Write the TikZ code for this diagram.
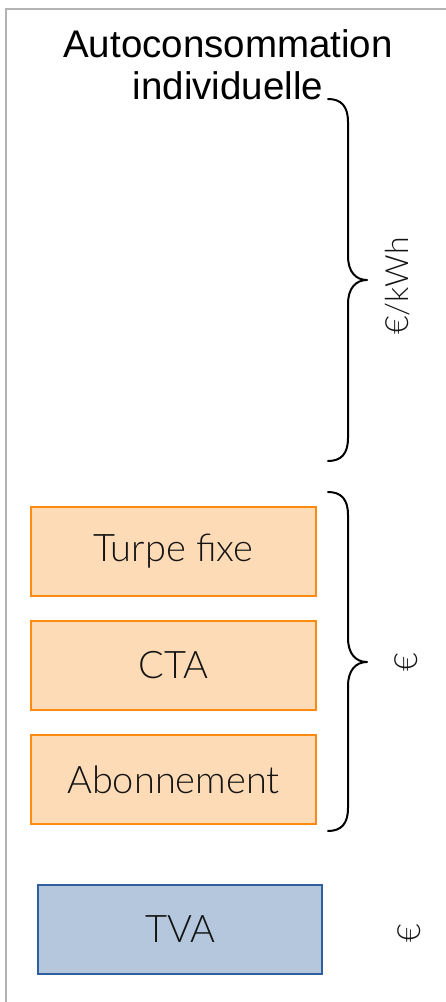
\documentclass[tikz,border=0pt]{standalone}
\usepackage{fontspec}
\setmainfont{Liberation Sans}
\newfontfamily\lightfont{Lato Light}
\definecolor{frameGray}{HTML}{B3B3B3}
\definecolor{orangeFill}{HTML}{FDDBB6}
\definecolor{orangeLine}{HTML}{FF8A10}
\definecolor{blueFill}{HTML}{B4C7DD}
\definecolor{blueLine}{HTML}{2F5F9E}
\definecolor{ink}{HTML}{141414}
\tikzset{
  costbox/.style={draw=orangeLine, fill=orangeFill, line width=1.5pt,
    minimum width=285pt, minimum height=89pt, inner sep=0pt,
    font=\lightfont\fontsize{38}{40}\selectfont, text=ink},
  taxbox/.style={draw=blueLine, fill=blueFill, line width=1.5pt,
    minimum width=284pt, minimum height=89pt, inner sep=0pt,
    font=\lightfont\fontsize{38}{40}\selectfont, text=ink},
  unitlabel/.style={rotate=90, inner sep=0pt,
    font=\lightfont\fontsize{32}{36}\selectfont, text=ink},
  titletext/.style={inner sep=0pt, anchor=base,
    font=\fontsize{38.5}{42}\selectfont},
  bracepath/.style={line width=2pt, line cap=round, line join=round}
}
\begin{document}
\begin{tikzpicture}[x=1pt, y=-1pt]
  \useasboundingbox (0,0) rectangle (445,1002);
  % frame
  \draw[frameGray, line width=2pt] (6,1003) -- (6,9) -- (446,9);
  % title
  \node[titletext] (title1) at (228,57) {Autoconsommation};
  \node[titletext] (title2) at (228,99) {individuelle};
  % boxes
  \node[costbox] (turpe) at (173.5,551.5) {Turpe fixe};
  \node[costbox] (cta) at (173.5,665.5) {CTA};
  \node[costbox] (abo) at (173.5,779.5) {Abonnement};
  \node[taxbox] (tva) at (180,929.5) {TVA};
  % upper brace
  \draw[bracepath] (328,99) .. controls (341,99) and (348,106) .. (348,122)
    -- (348,256) .. controls (348,272) and (356,280) .. (367,280)
    .. controls (356,280) and (348,288) .. (348,304)
    -- (348,438) .. controls (348,454) and (341,461) .. (328,461);
  % lower brace
  \draw[bracepath] (328,492) .. controls (341,492) and (348,499) .. (348,515)
    -- (348,638) .. controls (348,654) and (356,662) .. (367,662)
    .. controls (356,662) and (348,670) .. (348,686)
    -- (348,808) .. controls (348,824) and (341,831) .. (328,831);
  % unit labels
  \node[unitlabel] (kwh) at (398,286) {€/kWh};
  \node[unitlabel] (eur1) at (406,662) {€};
  \node[unitlabel] (eur2) at (409,933) {€};
\end{tikzpicture}
\end{document}
